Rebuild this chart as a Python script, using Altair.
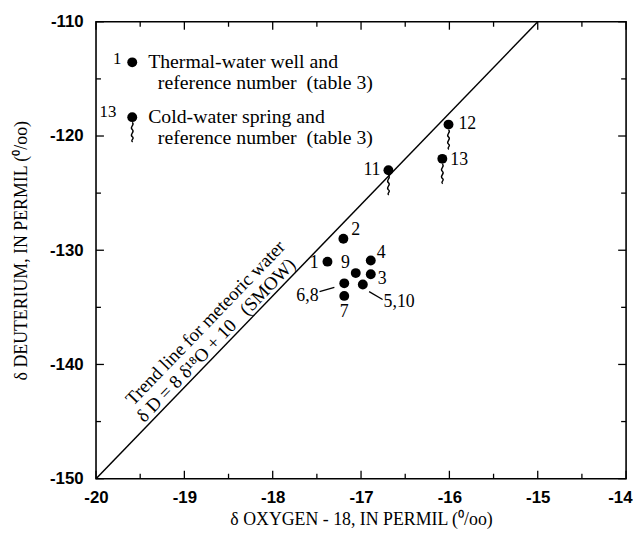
import altair as alt
import pandas as pd

# ---- axis tick values ----
x_major = [-20, -19, -18, -17, -16, -15, -14]
x_minor = [-19.5, -18.5, -17.5, -16.5, -15.5, -14.5]
y_major = [-150, -140, -130, -120, -110]
y_minor = [-145, -135, -125, -115]

# ---- thermal-water wells ----
well_label = ["1", "2", "3", "4", "5,10", "6,8", "7", "9"]
well_o18 = [-17.38, -17.20, -16.89, -16.89, -16.98, -17.19, -17.19, -17.06]
well_dD = [-131.0, -129.0, -132.1, -130.9, -133.0, -132.9, -134.0, -132.0]

# ---- cold-water springs ----
spring_label = ["11", "12", "13"]
spring_o18 = [-16.69, -16.01, -16.08]
spring_dD = [-123.0, -119.0, -122.0]

# ---- meteoric water line dD = 8 d18O + 10 ----
trend_o18 = [-20, -15]
trend_dD = [-150, -110]
trend_text = ["Trend line for meteoric water", "\u03b4 D = 8 \u03b4\u00b9\u2078O + 10\u00a0\u00a0\u00a0(SMOW)"]
trend_text_o18 = [-18.52, -18.56]

# ---- legend ----
legend_label = ["1", "13"]
legend_kind = ["well", "spring"]
legend_o18 = [-19.59, -19.59]
legend_dD = [-113.55, -118.35]
legend_line1 = ["Thermal-water well and", "Cold-water spring and"]
legend_line2 = ["reference number\u00a0\u00a0(table 3)", "reference number\u00a0\u00a0(table 3)"]
legend_text1_o18 = [-19.41, -19.41]
legend_text2_o18 = [-19.30, -19.30]
legend_text1_dD = [-113.5, -118.3]
legend_text2_dD = [-115.35, -120.15]

W, H = 536, 462
SERIF = "Liberation Serif"
SANS = "Liberation Sans"

xs = alt.Scale(domain=[-20, -14], nice=False, zero=False)
ys = alt.Scale(domain=[-150, -110], nice=False, zero=False)

wells = pd.DataFrame({"label": well_label, "o18": well_o18, "dD": well_dD})
springs = pd.DataFrame({"label": spring_label, "o18": spring_o18, "dD": spring_dD})
trend = pd.DataFrame({"o18": trend_o18, "dD": trend_dD})
trend_lab = pd.DataFrame({"text": trend_text, "o18": trend_text_o18})
legend = pd.DataFrame({
    "label": legend_label, "kind": legend_kind, "o18": legend_o18, "dD": legend_dD,
    "t1": legend_line1, "t2": legend_line2,
    "x1": legend_text1_o18, "x2": legend_text2_o18,
    "y1": legend_text1_dD, "y2": legend_text2_dD,
})

last_x = f"datum.value == {x_major[-1]}"
x_axis = alt.Axis(values=x_major, ticks=False, domain=False, grid=False,
                  labelFont=SANS, labelFontWeight="bold", labelFontSize=17,
                  labelColor="black", labelPadding=11, labelFlush=False,
                  labelAlign={"condition": {"test": last_x, "value": "right"}, "value": "center"},
                  labelOffset={"condition": {"test": last_x, "value": 6}, "value": 0},
                  labelExpr="'-' + abs(datum.value)",
                  title="\u03b4  OXYGEN - 18, IN PERMIL (\u2070/oo)",
                  titleFont=SERIF, titleFontSize=18, titleFontWeight="normal",
                  titleColor="black", titleY=41, titleBaseline="middle")
y_axis = alt.Axis(values=y_major, ticks=False, domain=False, grid=False,
                  labelFont=SANS, labelFontWeight="bold", labelFontSize=17,
                  labelColor="black", labelPadding=13, labelFlush=False,
                  labelExpr="'-' + abs(datum.value)",
                  title="\u03b4  DEUTERIUM, IN PERMIL (\u2070/oo)",
                  titleFont=SERIF, titleFontSize=18, titleFontWeight="normal",
                  titleColor="black", titleX=-75, titleY=H / 2,
                  titleBaseline="middle", titleAngle=270)

X = lambda f="o18": alt.X(f"{f}:Q", scale=xs, axis=x_axis)
Y = lambda f="dD": alt.Y(f"{f}:Q", scale=ys, axis=y_axis)

line = alt.Chart(trend).mark_line(color="black", strokeWidth=1.5).encode(x=X(), y=Y())

layers = [line]

# trend line annotation, rotated along the line
angle = 314
for t, dy in zip(trend_text, [-30, -10]):
    layers.append(
        alt.Chart(trend_lab).transform_filter(f"datum.text == {t!r}")
        .transform_calculate(dD="8 * datum.o18 + 10")
        .mark_text(font=SERIF, fontSize=19, angle=angle, dy=dy,
                   baseline="middle", align="center", color="black")
        .encode(x=X(), y=Y(), text="text:N")
    )

# ticks on all four sides, pointing inward
def tick_layer(vals, axis_ch, side, length):
    df = pd.DataFrame({"o18": vals, "dD": vals})
    c = alt.Chart(df).mark_rule(color="black", strokeWidth=1.3)
    if axis_ch == "x":
        if side == "bottom":
            return c.encode(x=X(), y=alt.value(H), y2=alt.value(H - length))
        return c.encode(x=X(), y=alt.value(0), y2=alt.value(length))
    if side == "left":
        return c.encode(y=Y(), x=alt.value(0), x2=alt.value(length))
    return c.encode(y=Y(), x=alt.value(W), x2=alt.value(W - length))

for side in ["bottom", "top"]:
    layers.append(tick_layer(x_major, "x", side, 8))
    layers.append(tick_layer(x_minor, "x", side, 5))
for side in ["left", "right"]:
    layers.append(tick_layer(y_major, "y", side, 8))
    layers.append(tick_layer(y_minor, "y", side, 5))

DOT = 100
TAIL = "M0,0.22 C0.14,0.32 -0.14,0.42 0,0.52 C0.14,0.62 -0.14,0.72 0,0.82 C0.12,0.9 -0.1,0.98 0.02,1.04"

# spring tails
layers.append(alt.Chart(springs).mark_point(shape=TAIL, size=2304, filled=False,
                                            color="black", strokeWidth=1.4, opacity=1)
              .encode(x=X(), y=Y()))
layers.append(alt.Chart(legend).transform_filter("datum.kind == 'spring'")
              .mark_point(shape=TAIL, size=2304, filled=False, color="black",
                          strokeWidth=1.4, opacity=1)
              .encode(x=X(), y=Y()))

# dots
for df in (wells, springs, legend):
    layers.append(alt.Chart(df).mark_circle(size=DOT, color="black", opacity=1)
                  .encode(x=X(), y=Y()))

# leader lines
leaders = {"6,8": "M-1.25,0.42 L-0.5,0.2", "5,10": "M0.32,0.36 L1.0,0.76"}
for lab, path in leaders.items():
    layers.append(alt.Chart(wells).transform_filter(f"datum.label == {lab!r}")
                  .mark_point(shape=path, size=1600, filled=False, color="black",
                              strokeWidth=1.3, opacity=1)
                  .encode(x=X(), y=Y()))

# point labels
placement = {
    "1": (-9, 1, "right"), "2": (8, -9, "left"), "3": (7, 5, "left"),
    "4": (6, -8, "left"), "5,10": (21, 18, "left"), "6,8": (-26, 13, "right"),
    "7": (0, 16, "center"), "9": (-6, -10, "right"),
    "11": (-8, 0, "right"), "12": (10, -1, "left"), "13": (8, 1, "left"),
}
for df in (wells, springs):
    for lab in df["label"]:
        dx, dy, al = placement[lab]
        layers.append(alt.Chart(df).transform_filter(f"datum.label == {lab!r}")
                      .mark_text(font=SERIF, fontSize=18, dx=dx, dy=dy, align=al,
                                 baseline="middle", color="black")
                      .encode(x=X(), y=Y(), text="label:N"))

# legend labels and texts
leg_place = {"1": (-11, -3), "13": (-16, -5)}
for lab, (dx, dy) in leg_place.items():
    layers.append(alt.Chart(legend).transform_filter(f"datum.label == {lab!r}")
                  .mark_text(font=SERIF, fontSize=17, dx=dx, dy=dy, align="right",
                             baseline="middle", color="black")
                  .encode(x=X(), y=Y(), text="label:N"))
layers.append(alt.Chart(legend).mark_text(font=SERIF, fontSize=20, align="left",
                                          baseline="middle", color="black")
              .encode(x=X("x1"), y=Y("y1"), text="t1:N"))
layers.append(alt.Chart(legend).mark_text(font=SERIF, fontSize=20, align="left",
                                          baseline="middle", color="black")
              .encode(x=X("x2"), y=Y("y2"), text="t2:N"))

chart = alt.layer(*layers).properties(
    width=W, height=H,
    autosize=alt.AutoSizeParams(type="none"),
    padding={"left": 89, "top": 11, "right": 7, "bottom": 53},
    background="white",
).configure_view(stroke="black", strokeWidth=1.6)

chart.save("out.html", embed_options={"renderer": "svg", "actions": False})
